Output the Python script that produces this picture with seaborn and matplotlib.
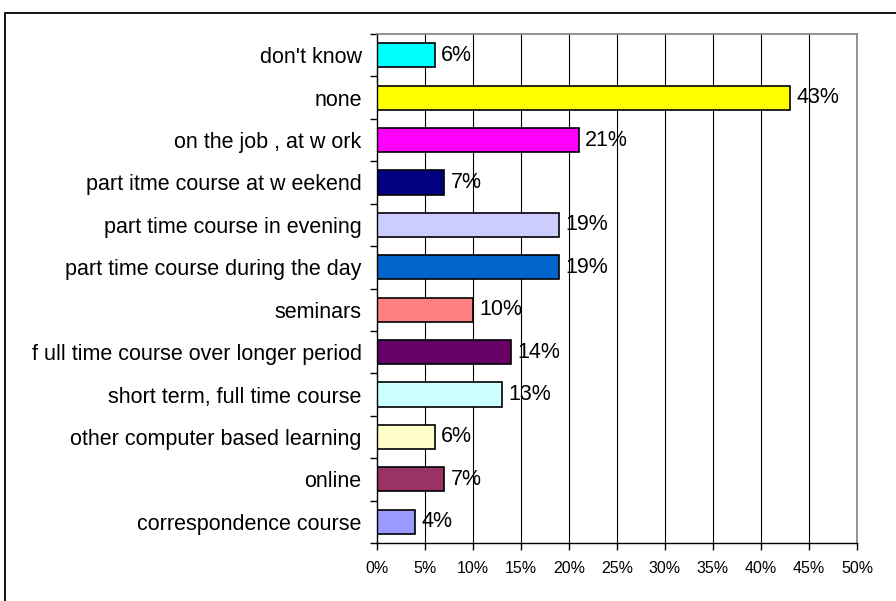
import matplotlib
matplotlib.use("Agg")
import matplotlib.pyplot as plt
import matplotlib.patches as mpatches
import seaborn as sns
import pandas as pd

categories = [
    "don't know",
    "none",
    "on the job , at w ork",
    "part itme course at w eekend",
    "part time course in evening",
    "part time course during the day",
    "seminars",
    "f ull time course over longer period",
    "short term, full time course",
    "other computer based learning",
    "online",
    "correspondence course",
]
values = [6, 43, 21, 7, 19, 19, 10, 14, 13, 6, 7, 4]
bar_colors = [
    "#00FFFF", "#FFFF00", "#FF00FF", "#000080", "#CCCCFF", "#0066CC",
    "#FF8080", "#660066", "#CCFFFF", "#FFFFCC", "#993366", "#9999FF",
]
x_ticks = list(range(0, 55, 5))
x_tick_labels = [f"{t}%" for t in x_ticks]

sns.set_theme(style="white")
plt.rcParams["font.family"] = ["Liberation Sans", "DejaVu Sans"]
plt.rcParams["text.color"] = "black"
plt.rcParams["xtick.color"] = "black"
plt.rcParams["ytick.color"] = "black"

df = pd.DataFrame({"category": categories, "value": values})

fig = plt.figure(figsize=(8.96, 6.01), dpi=100)
ax = fig.add_axes([377 / 896, 1 - 543 / 601, (857 - 377) / 896, (543 - 34) / 601])

# outer chart frame
fig.patches.append(mpatches.Rectangle(
    (5 / 896, -0.05), 1.0, 1 - 13 / 601 + 0.05, transform=fig.transFigure,
    fill=False, edgecolor="black", linewidth=1.3, zorder=0))

# vertical gridlines every 5%
for t in x_ticks[1:-1]:
    ax.axvline(t, color="black", linewidth=0.8, zorder=0)

sns.barplot(
    data=df, x="value", y="category", hue="category",
    palette=dict(zip(categories, bar_colors)), legend=False,
    orient="h", width=0.57, edgecolor="black", linewidth=1.2,
    saturation=1, ax=ax, zorder=2,
)

for i, v in enumerate(values):
    ax.text(v + 0.65, i, f"{v}%", va="center", ha="left",
            fontsize=15.5, color="black", zorder=3)

ax.set_xlim(0, 50)
ax.set_ylim(len(categories) - 0.5, -0.5)
ax.set_xticks(x_ticks)
ax.set_xticklabels(x_tick_labels, fontsize=11.5)
ax.set_xlabel("")
ax.set_ylabel("")
ax.tick_params(axis="x", direction="out", length=5, width=1, color="black",
               bottom=True, pad=8)
ax.set_yticks(range(len(categories)))
ax.set_yticklabels(categories, fontsize=15.5)
ax.set_yticks([i - 0.5 for i in range(len(categories) + 1)], minor=True)
ax.tick_params(axis="y", which="major", length=0, pad=11)
ax.tick_params(axis="y", which="minor", direction="out", length=5, width=1,
               color="black", left=True)

for side in ["left", "bottom"]:
    ax.spines[side].set_color("black")
    ax.spines[side].set_linewidth(1.0)
for side in ["top", "right"]:
    ax.spines[side].set_visible(True)
    ax.spines[side].set_color("#808080")
    ax.spines[side].set_linewidth(1.2)

fig.savefig("out.png", dpi=100, facecolor="white")
